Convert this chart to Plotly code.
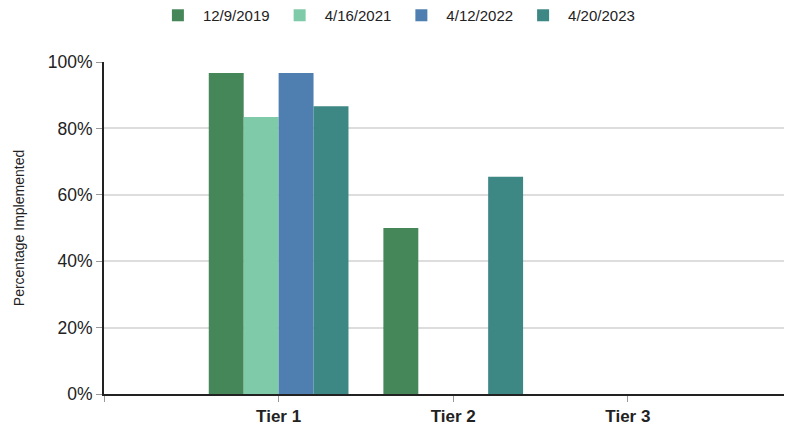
import plotly.graph_objects as go

categories = ["Tier 1", "Tier 2", "Tier 3"]
series_names = ["12/9/2019", "4/16/2021", "4/12/2022", "4/20/2023"]
values_2019 = [0.967, 0.50, 0.0]
values_2021 = [0.834, 0.0, 0.0]
values_2022 = [0.967, 0.0, 0.0]
values_2023 = [0.867, 0.654, 0.0]
colors = ["#46875a", "#7fcaa8", "#4e7fb0", "#3d8785"]
y_tick_vals = [0, 0.2, 0.4, 0.6, 0.8, 1.0]

fig = go.Figure()
for name, vals, col in zip(series_names, [values_2019, values_2021, values_2022, values_2023], colors):
    fig.add_trace(go.Bar(x=categories, y=vals, name=name, marker=dict(color=col, line=dict(width=0))))

# page body has an 8px margin, so the figure is sized/margined to compensate
fig.update_layout(
    width=784, height=420,
    margin=dict(l=96, r=0, t=54, b=34, autoexpand=False),
    paper_bgcolor="white", plot_bgcolor="white",
    barmode="group", bargap=0.2, bargroupgap=0,
    font=dict(family="Liberation Sans, Arial, sans-serif", color="#222"),
    legend=dict(orientation="h", x=0.425, xanchor="center", y=1.14, yanchor="middle",
                font=dict(size=15, color="#222"), itemwidth=40, traceorder="normal"),
    showlegend=True,
)
fig.update_xaxes(
    type="category", categoryorder="array", categoryarray=[" "] + categories,
    range=[0, 3.94], automargin=False,
    showline=True, linecolor="#222", linewidth=2,
    ticks="outside", tickcolor="#999", ticklen=6,
    tickfont=dict(size=17, color="#222", family="Liberation Sans, Arial, sans-serif", weight="bold"),
    showgrid=False,
)
fig.update_yaxes(
    range=[0, 1.0], tickvals=y_tick_vals, tickformat=".0%", automargin=False,
    showline=True, linecolor="#222", linewidth=2,
    ticks="outside", tickcolor="#999", ticklen=6,
    tickfont=dict(size=17.5, color="#222"),
    showgrid=True, gridcolor="#dddddd", gridwidth=2,
    zeroline=False,
    title=dict(text="Percentage Implemented", font=dict(size=14, color="#222"), standoff=20),
)
fig.write_html("out.html")
